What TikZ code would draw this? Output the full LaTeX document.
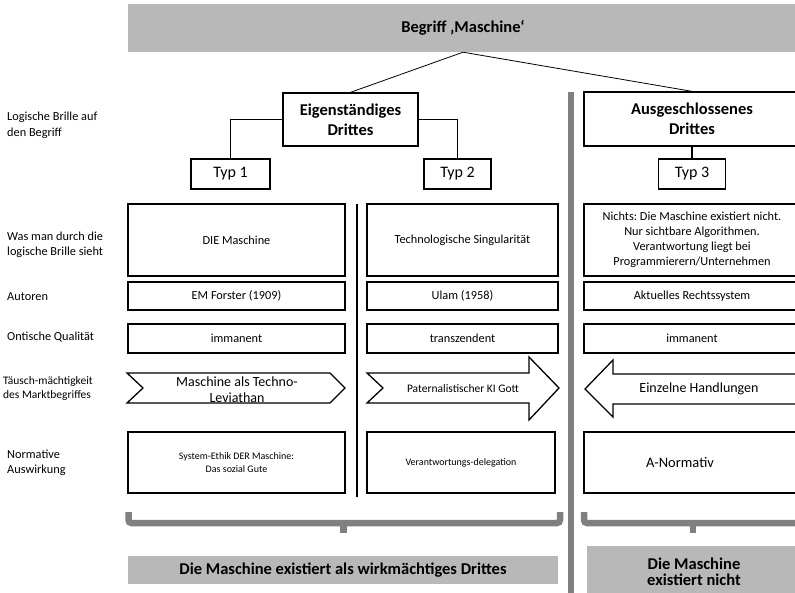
\documentclass[tikz,border=0pt]{standalone}
\usepackage{fontspec}
\setmainfont{Carlito}
\frenchspacing
\begin{document}
\begin{tikzpicture}[x=1pt,y=-1pt]
\tikzset{
  bx/.style={draw=black, line width=1.3pt, fill=white, align=center, inner sep=0pt, font=\fontsize{12.3}{15}\selectfont},
  hd/.style={bx, font=\bfseries\fontsize{16.5}{20}\selectfont},
  typbox/.style={bx, font=\fontsize{16}{19}\selectfont, minimum height=30pt},
  lbl/.style={anchor=west, align=left, inner sep=0pt, font=\fontsize{12.3}{15.5}\selectfont},
  graybar/.style={fill=black!28, inner sep=0pt, align=center, font=\bfseries\fontsize{16.5}{18.5}\selectfont},
  sepbar/.style={fill=black!50},
  brk/.style={draw=black!50, line width=6.5pt, rounded corners=3pt},
  conn/.style={line width=1.3pt},
  thinconn/.style={line width=0.8pt},
  shp/.style={draw=black, line width=1.3pt, fill=white, line join=miter},
  txt/.style={inner sep=0pt, align=center}
}
\useasboundingbox (0,0) rectangle (795,593);
\clip (0,0) rectangle (795,593);

% title
\node[graybar, minimum width=670pt, minimum height=48pt] (title) at (463,28) {Begriff ‚Maschine‘};

% separators
\fill[sepbar] (567.5,92) rectangle (573.5,600);
\draw[line width=1.5pt] (357,204) -- (357,497);

% headings
\node[hd, minimum width=135pt, minimum height=53pt] (eigen) at (350.5,119.5) {Eigenständiges\\Drittes};
\node[hd, minimum width=216pt, minimum height=54pt] (ausg) at (692,119) {Ausgeschlossenes\\Drittes};

\node[typbox, minimum width=79pt] (typ1) at (230.5,174) {Typ 1};
\node[typbox, minimum width=67pt] (typ2) at (457.5,174) {Typ 2};
\node[typbox, minimum width=67pt] (typ3) at (692,174) {Typ 3};

\draw[thinconn] (title.south) -- (eigen.north);
\draw[thinconn] (title.south) -- (ausg.north);
\draw[conn] (eigen.west) -| (typ1.north);
\draw[conn] (eigen.east) -| (typ2.north);
\draw[conn] (ausg.south) -- (typ3.north);

% left labels
\node[lbl] (l1) at (7,125.5) {Logische Brille auf\\den Begriff};
\node[lbl] (l2) at (7,245) {Was man durch die\\logische Brille sieht};
\node[lbl] (l3) at (7,297) {Autoren};
\node[lbl] (l4) at (7,337) {Ontische Qualität};
\node[lbl, font=\fontsize{11.5}{13.5}\selectfont] (l5) at (3,388.5) {Täusch-mächtigkeit\\des Marktbegriffes};
\node[lbl] (l6) at (7,463) {Normative\\Auswirkung};

% row 1
\node[bx, minimum width=217pt, minimum height=72pt] (r1a) at (236.5,240) {DIE Maschine};
\node[bx, minimum width=191pt, minimum height=72pt] (r1b) at (462.5,240) {Technologische Singularität};
\node[bx, minimum width=216pt, minimum height=72pt] (r1c) at (692,240) {Nichts: Die Maschine existiert nicht.\\Nur sichtbare Algorithmen.\\Verantwortung liegt bei\\Programmierern/Unternehmen};

% row 2
\node[bx, minimum width=217pt, minimum height=28pt] (r2a) at (236.5,296) {EM Forster (1909)};
\node[bx, minimum width=191pt, minimum height=28pt] (r2b) at (462.5,296) {Ulam (1958)};
\node[bx, minimum width=216pt, minimum height=28pt] (r2c) at (692,296) {Aktuelles Rechtssystem};

% row 3
\node[bx, minimum width=217pt, minimum height=29pt] (r3a) at (236.5,338.5) {immanent};
\node[bx, minimum width=191pt, minimum height=29pt] (r3b) at (462.5,338.5) {transzendent};
\node[bx, minimum width=216pt, minimum height=29pt] (r3c) at (692,338.5) {immanent};

% row 4 arrows
\draw[shp] (127,373) -- (330,373) -- (345,388) -- (330,403) -- (127,403) -- (143,388) -- cycle;
\node[txt, font=\fontsize{14}{16}\selectfont] (r4a) at (237,390) {Maschine als Techno-\\Leviathan};
\draw[shp] (367,373) -- (529,373) -- (529,357) -- (559,388) -- (529,420) -- (529,403) -- (367,403) -- (383,388) -- cycle;
\node[txt, font=\fontsize{11.5}{14}\selectfont] (r4b) at (463,389) {Paternalistischer KI Gott};
\draw[shp] (810,374) -- (613,374) -- (613,360) -- (585,389) -- (613,417) -- (613,404) -- (810,404) -- cycle;
\node[txt, font=\fontsize{14}{16}\selectfont] (r4c) at (699,389) {Einzelne Handlungen};

% row 5
\node[bx, minimum width=217pt, minimum height=61pt, font=\fontsize{10}{12.5}\selectfont] (r5a) at (236.5,462.5) {System-Ethik DER Maschine:\\Das sozial Gute};
\node[bx, minimum width=188pt, minimum height=61pt, font=\fontsize{10}{12}\selectfont] (r5b) at (461,462.5) {Verantwortungs-delegation};
\node[bx, minimum width=216pt, minimum height=61pt, font=\fontsize{14.5}{17}\selectfont] (r5c) at (692,462.5) {\hspace*{-24pt}A-Normativ};

% brackets
\draw[brk] (128.5,512) -- (128.5,523) -- (560,523) -- (560,512);
\draw[brk, rounded corners=0pt] (343.5,523) -- (343.5,533);
\draw[brk] (584,512) -- (584,523) -- (810,523);
\draw[brk, rounded corners=0pt] (693,523) -- (693,533);

% bottom
\node[graybar, minimum width=430pt, minimum height=28pt] (b1) at (343,570) {Die Maschine existiert als wirkmächtiges Drittes};
\node[graybar, minimum width=214pt, minimum height=54pt] (b2) at (694,573) {\raisebox{2pt}{\shortstack{Die Maschine\\[1pt]existiert nicht}}};
\end{tikzpicture}
\end{document}
